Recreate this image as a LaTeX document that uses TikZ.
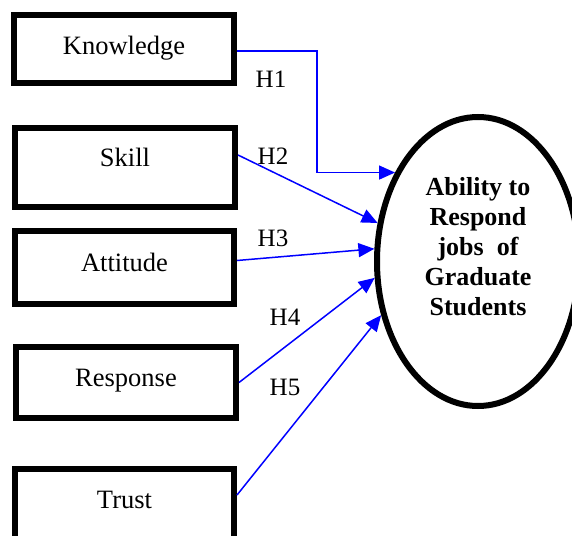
\documentclass[tikz,border=0pt]{standalone}
\usepackage{fontspec}
\setmainfont{Liberation Serif}
\usetikzlibrary{shapes.geometric,arrows.meta}
\begin{document}
\begin{tikzpicture}[x=1pt,y=-1pt,
 varbox/.style={draw=black,line width=6pt,minimum width=220pt,minimum height=70pt,inner sep=0pt,font=\fontsize{26.5}{30}\selectfont},
 conn/.style={draw=blue,line width=1.5pt,-{Triangle[length=16pt,width=14pt]}},
 hlab/.style={font=\fontsize{25}{28}\selectfont,inner sep=0pt}]
\useasboundingbox (0,0) rectangle (572,535);
\clip (0,0) rectangle (572,535);
\node[varbox,minimum height=68pt] (kn) at (124,49) {\raisebox{8pt}{Knowledge}};
\node[varbox,minimum height=79pt] (sk) at (125,167.5) {\raisebox{20pt}{Skill}};
\node[varbox,minimum width=219pt,minimum height=73pt] (att) at (124.5,267.5) {\raisebox{10pt}{Attitude}};
\node[varbox,minimum height=71pt] (re) at (126,382.5) {\raisebox{10pt}{Response}};
\node[varbox,minimum width=219pt,minimum height=72pt] (tr) at (124.5,505) {\raisebox{10pt}{Trust}};
\node[draw=black,ellipse,line width=6pt,minimum width=202pt,minimum height=289pt,inner sep=0pt] (ell) at (478,261.5) {};
\node[font=\bfseries\fontsize{26}{30}\selectfont,align=center,inner sep=0pt] (elltxt) at (478,246.5) {Ability to\\Respond\\jobs\ \ of\\Graduate\\Students};
\coordinate (k1) at ([yshift=-2pt]kn.east);
\draw[conn] (k1) -- ++(80,0) |- (ell.133.5);
\draw[conn] ([yshift=12.5pt]sk.east) -- (ell.159);
\draw[conn] ([yshift=7pt]att.east) -- (ell.173);
\draw[conn] (re.east) -- (ell.-171);
\draw[conn] ([yshift=10pt]tr.east) -- (ell.-151);
\node[hlab] (h1) at (271,79) {H1};
\node[hlab] (h2) at (273,156) {H2};
\node[hlab] (h3) at (273,238) {H3};
\node[hlab] (h4) at (285,317) {H4};
\node[hlab] (h5) at (285,387) {H5};
\end{tikzpicture}
\end{document}
